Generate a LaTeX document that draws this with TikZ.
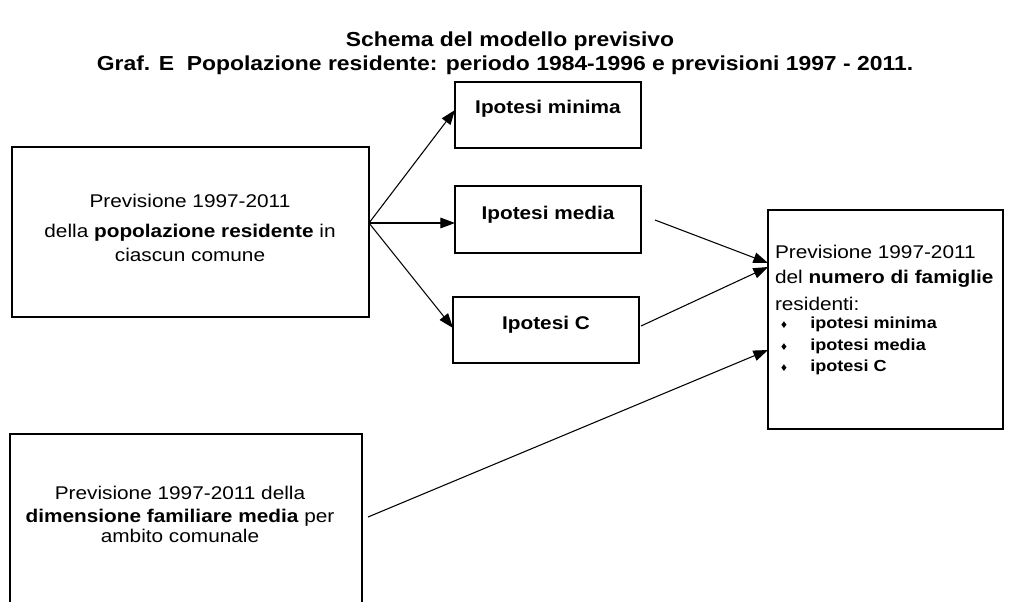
\documentclass[tikz,border=0pt]{standalone}
\usepackage{fontspec}
\setmainfont[FakeStretch=1.13]{Liberation Sans}
\newfontfamily\symfont{DejaVu Sans}
\usetikzlibrary{arrows.meta,calc}
\begin{document}
\begin{tikzpicture}[x=0.75pt,y=-0.75pt,
  box/.style={draw, line width=2pt, inner sep=0pt, outer sep=0pt, rectangle},
  txt/.style={inner sep=0pt, outer sep=0pt, anchor=base, font=\fontsize{13.8}{16}\selectfont},
  txtl/.style={txt, anchor=base west},
  ttl/.style={inner sep=0pt, anchor=base, font=\fontsize{15.2}{18}\selectfont\bfseries},
  lab/.style={inner sep=0pt, anchor=base, font=\fontsize{13.8}{16}\selectfont\bfseries},
  item/.style={inner sep=0pt, anchor=base west, font=\fontsize{12}{14}\selectfont\bfseries},
  bul/.style={inner sep=0pt, anchor=base, font=\fontsize{7}{8}\selectfont\symfont},
  conn/.style={line width=0.8pt, -{Triangle[length=11pt,width=8pt]}}]
\useasboundingbox (0,0) rectangle (1009,601);
\clip (0,0) rectangle (1009,601);
\fill[white] (0,0) rectangle (1009,601);

% titles
\node[ttl] (t1) at (510,46) {Schema del modello previsivo};
\node[ttl] (t2) at (505,70) {Graf. E\ \ Popolazione residente: periodo 1984-1996 e previsioni 1997 - 2011.};

% boxes
\node[box, minimum width=139.5pt, minimum height=49.5pt] (min) at (548,115) {};
\node[box, minimum width=267.75pt, minimum height=127.5pt] (A) at (190.5,232) {};
\node[box, minimum width=139.5pt, minimum height=50.25pt] (med) at (548,219.5) {};
\node[box, minimum width=139.5pt, minimum height=49.5pt] (C) at (546,330) {};
\node[box, minimum width=176.25pt, minimum height=164.25pt] (D) at (885.5,319.5) {};
\node[box, minimum width=264pt, minimum height=154.5pt] (E) at (186,537) {};

% box A text
\node[txt] (a1) at (190,207) {Previsione 1997-2011};
\node[txt] (a2) at (190,237) {della \textbf{popolazione residente} in};
\node[txt] (a3) at (190,261) {ciascun comune};

% hypothesis labels
\node[lab] (l1) at (548,113) {Ipotesi minima};
\node[lab] (l2) at (548,219) {Ipotesi media};
\node[lab] (l3) at (546,329) {Ipotesi C};

% box D text
\node[txtl] (d1) at (775,258) {Previsione 1997-2011};
\node[txtl] (d2) at (775,283) {del \textbf{numero di famiglie}};
\node[txtl] (d3) at (775,310) {residenti:};
\node[bul] (b1) at (784,328) {\char"2666};
\node[bul] (b2) at (784,350) {\char"2666};
\node[bul] (b3) at (784,371) {\char"2666};
\node[item] (i1) at (810,328) {ipotesi minima};
\node[item] (i2) at (810,350) {ipotesi media};
\node[item] (i3) at (810,371) {ipotesi C};

% box E text
\node[txt] (e1) at (180,499) {Previsione 1997-2011 della};
\node[txt] (e2) at (180,522) {\textbf{dimensione familiare media} per};
\node[txt] (e3) at (180,542) {ambito comunale};

% connector end points
\coordinate (Aout) at (369,223);
\coordinate (minIn) at (455,110);
\coordinate (medIn) at (455,223);
\coordinate (CIn) at (453,328);
\coordinate (medOut) at (655,220);
\coordinate (COut) at (641,326);
\coordinate (EOut) at (368,517);
\coordinate (Din1) at (768,263);
\coordinate (Din2) at (768,267);
\coordinate (Din3) at (768,350);

\draw[conn] (Aout) -- (minIn);
\draw[conn] (Aout) -- (medIn);
\draw[conn] (Aout) -- (CIn);
\draw[conn] (medOut) -- (Din1);
\draw[conn] (COut) -- (Din2);
\draw[conn] (EOut) -- (Din3);
\end{tikzpicture}
\end{document}
